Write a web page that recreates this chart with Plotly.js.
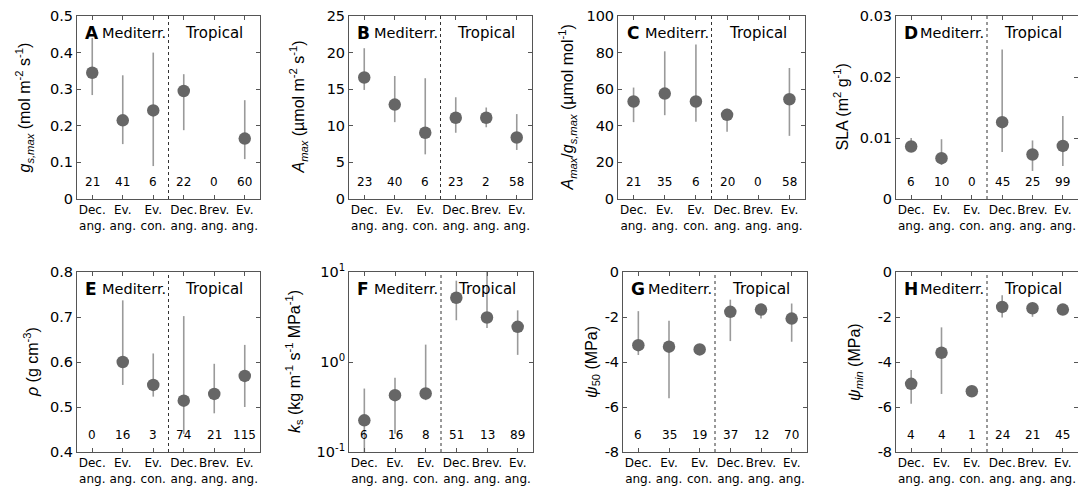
<!DOCTYPE html>
<html><head><meta charset="utf-8">
<script src="https://cdn.plot.ly/plotly-3.0.1.min.js"></script>
<style>html,body{margin:0;padding:0;background:#fff;} #chart{width:1078px;height:487px;}</style>
</head><body><div id="chart"></div>
<script>
// ---- categories / tick labels ----
const categoryLabels = ['Dec.<br>ang.','Ev.<br>ang.','Ev.<br>con.','Dec.<br>ang.','Brev.<br>ang.','Ev.<br>ang.'];
const positions = [1, 2, 3, 4, 5, 6];
const regionLeft = 'Mediterr.';
const regionRight = 'Tropical';

// ---- A: gs,max ----
const gsMean = [0.345, 0.215, 0.242, 0.295, null, 0.165];
const gsLow  = [0.284, 0.150, 0.090, 0.188, null, 0.109];
const gsHigh = [0.440, 0.338, 0.400, 0.341, null, 0.270];
const gsN    = [21, 41, 6, 22, 0, 60];
// ---- B: Amax ----
const amaxMean = [16.6, 12.9, 9.05, 11.1, 11.1, 8.4];
const amaxLow  = [14.9, 10.5, 6.1, 9.05, 9.8, 6.7];
const amaxHigh = [20.6, 16.8, 16.5, 13.9, 12.5, 11.6];
const amaxN    = [23, 40, 6, 23, 2, 58];
// ---- C: Amax/gs,max ----
const wueMean = [53.3, 57.6, 53.3, 46.0, null, 54.5];
const wueLow  = [42.0, 45.8, 42.2, 36.7, null, 34.5];
const wueHigh = [60.9, 80.7, 84.4, 49.3, null, 71.6];
const wueN    = [21, 35, 6, 20, 0, 58];
// ---- D: SLA ----
const slaMean = [0.0086, 0.0067, null, 0.0126, 0.0073, 0.0087];
const slaLow  = [0.0077, 0.0056, null, 0.0077, 0.0046, 0.0054];
const slaHigh = [0.0100, 0.0098, null, 0.0245, 0.0096, 0.0136];
const slaN    = [6, 10, 0, 45, 25, 99];
// ---- E: wood density ----
const rhoMean = [null, 0.600, 0.549, 0.514, 0.529, 0.569];
const rhoLow  = [null, 0.549, 0.523, 0.440, 0.486, 0.500];
const rhoHigh = [null, 0.737, 0.619, 0.702, 0.596, 0.638];
const rhoN    = [0, 16, 3, 74, 21, 115];
// ---- F: ks ----
const ksMean = [0.225, 0.428, 0.447, 5.17, 3.12, 2.46];
const ksLow  = [0.08, 0.16, 0.377, 2.91, 2.38, 1.2];
const ksHigh = [0.507, 0.67, 1.56, 8.0, 12.0, 3.75];
const ksN    = [6, 16, 8, 51, 13, 89];
const ksTickVals = [0.1, 1, 10];
const ksTickText = ['10<sup>-1</sup>', '10<sup>0</sup>', '10<sup>1</sup>'];
// ---- G: psi50 ----
const psi50Mean = [-3.25, -3.32, -3.44, -1.77, -1.67, -2.07];
const psi50Low  = [-3.69, -5.61, -3.55, -3.07, -2.07, -3.10];
const psi50High = [-1.74, -2.17, -3.35, -1.23, -1.48, -1.40];
const psi50N    = [6, 35, 19, 37, 12, 70];
// ---- H: psimin ----
const psiMinMean = [-4.97, -3.59, -5.30, -1.55, -1.61, -1.67];
const psiMinLow  = [-5.86, -5.42, -5.30, -2.02, -1.99, -1.87];
const psiMinHigh = [-4.35, -2.46, -5.30, -1.03, -1.40, -1.50];
const psiMinN    = [4, 4, 1, 24, 21, 45];
const psiTickVals = [-8, -6, -4, -2, 0];
const psiTickText = ['-8', '-6', '-4', '-2', '0'];

const W = 1078, H = 487;
const TOP = [16, 199], BOT = [272, 452];
const panels = [
  {letter:'A', mean:gsMean, low:gsLow, high:gsHigh, n:gsN, bx:[77,260], by:TOP, range:[0,0.5], dtick:0.1,
   title:'<i>g</i><sub><i>s,max</i></sub> (mol m<sup>-2</sup> s<sup>-1</sup>)', tx:25},
  {letter:'B', mean:amaxMean, low:amaxLow, high:amaxHigh, n:amaxN, bx:[349,532], by:TOP, range:[0,25], dtick:5,
   title:'<i>A</i><sub><i>max</i></sub> (µmol m<sup>-2</sup> s<sup>-1</sup>)', tx:299},
  {letter:'C', mean:wueMean, low:wueLow, high:wueHigh, n:wueN, bx:[618,805], by:TOP, range:[0,100], dtick:20,
   title:'<i>A</i><sub><i>max</i></sub>/<i>g</i><sub><i>s,max</i></sub> (µmol mol<sup>-1</sup>)', tx:568},
  {letter:'D', mean:slaMean, low:slaLow, high:slaHigh, n:slaN, bx:[896,1078], by:TOP, range:[0,0.03], dtick:0.01,
   title:'SLA (m<sup>2</sup> g<sup>-1</sup>)', tx:842},
  {letter:'E', mean:rhoMean, low:rhoLow, high:rhoHigh, n:rhoN, bx:[77,260], by:BOT, range:[0.4,0.8], dtick:0.1,
   title:'<i>ρ</i> (g cm<sup>-3</sup>)', tx:31},
  {letter:'F', mean:ksMean, low:ksLow, high:ksHigh, n:ksN, bx:[349,533], by:BOT, range:[-1,1], type:'log',
   tickvals:ksTickVals, ticktext:ksTickText,
   title:'<i>k</i><sub>s</sub> (kg m<sup>-1</sup> s<sup>-1</sup> MPa<sup>-1</sup>)', tx:294},
  {letter:'G', mean:psi50Mean, low:psi50Low, high:psi50High, n:psi50N, bx:[623,807], by:BOT, range:[-8,0],
   tickvals:psiTickVals, ticktext:psiTickText,
   title:'<i>ψ</i><sub>50</sub> (MPa)', tx:592},
  {letter:'H', mean:psiMinMean, low:psiMinLow, high:psiMinHigh, n:psiMinN, bx:[896,1078], by:BOT, range:[-8,0],
   tickvals:psiTickVals, ticktext:psiTickText,
   title:'<i>ψ</i><sub><i>min</i></sub> (MPa)', tx:855}
];

const AXC = '#555';
const data = [];
const layout = {
  width: W, height: H,
  margin: {l:0, r:0, t:0, b:0},
  paper_bgcolor: '#fff', plot_bgcolor: '#fff',
  font: {family: 'DejaVu Sans', color: '#000'},
  showlegend: false,
  annotations: [], shapes: []
};

panels.forEach((p, i) => {
  const sfx = i === 0 ? '' : String(i + 1);
  const xa = 'x' + sfx, ya = 'y' + sfx;
  const plus = p.mean.map((m, k) => m === null ? null : p.high[k] - m);
  const minus = p.mean.map((m, k) => m === null ? null : m - p.low[k]);
  data.push({
    type: 'scatter', mode: 'markers', x: positions, y: p.mean, xaxis: xa, yaxis: ya,
    marker: {size: 12.5, color: '#666'},
    error_y: {type: 'data', symmetric: false, array: plus, arrayminus: minus, color: '#9a9a9a', thickness: 1.6, width: 0},
    hoverinfo: 'skip', showlegend: false
  });
  const common = {showline: true, linecolor: AXC, linewidth: 1, mirror: 'ticks', ticks: 'inside', ticklen: 4,
    tickcolor: AXC, showgrid: false, zeroline: false, fixedrange: true};
  layout['xaxis' + sfx] = Object.assign({}, common, {
    domain: [p.bx[0] / W, Math.min(1, p.bx[1] / W)], range: [0.5, 6.5], anchor: ya,
    tickvals: positions, ticktext: categoryLabels, tickangle: 0,
    tickfont: {family: 'DejaVu Sans', size: 12, color: '#000'}
  });
  const yax = Object.assign({}, common, {
    domain: [1 - p.by[1] / H, 1 - p.by[0] / H], range: p.range, anchor: xa,
    tickfont: {family: 'DejaVu Sans', size: 14.5, color: '#000'}
  });
  if (p.type) yax.type = p.type;
  if (p.tickvals) { yax.tickmode = 'array'; yax.tickvals = p.tickvals; yax.ticktext = p.ticktext; }
  else { yax.dtick = p.dtick; yax.tick0 = 0; }
  layout['yaxis' + sfx] = yax;

  // divider
  layout.shapes.push({type: 'line', xref: xa, yref: ya + ' domain', x0: 3.5, x1: 3.5, y0: 0, y1: 1,
    line: {color: '#333', width: 1, dash: 'dot'}});
  // panel letter and region labels
  layout.annotations.push({xref: xa + ' domain', yref: ya + ' domain', x: 0.035, y: 0.907, xanchor: 'left', yanchor: 'middle',
    text: '<b>' + p.letter + '</b>', showarrow: false, font: {family: 'DejaVu Sans', size: 17, color: '#000'}});
  layout.annotations.push({xref: xa, yref: ya + ' domain', x: 3.47, y: 0.907, xanchor: 'right', yanchor: 'middle',
    text: regionLeft, showarrow: false, font: {family: 'DejaVu Sans', size: 14.5, color: '#000'}});
  layout.annotations.push({xref: xa, yref: ya + ' domain', x: 5, y: 0.907, xanchor: 'center', yanchor: 'middle',
    text: regionRight, showarrow: false, font: {family: 'DejaVu Sans', size: 15, color: '#000'}});
  // sample sizes
  p.n.forEach((v, k) => {
    layout.annotations.push({xref: xa, yref: ya + ' domain', x: positions[k], y: 0.093, xanchor: 'center', yanchor: 'middle',
      text: String(v), showarrow: false, font: {family: 'DejaVu Sans', size: 12, color: '#000'}});
  });
  // y title
  layout.annotations.push({xref: 'paper', yref: 'paper', x: p.tx / W, y: 1 - (p.by[0] + p.by[1]) / 2 / H,
    xanchor: 'center', yanchor: 'middle', textangle: -90, text: p.title, showarrow: false,
    font: {family: 'Liberation Sans', size: 16, color: '#000'}});
});

Plotly.newPlot('chart', data, layout, {displayModeBar: false, staticPlot: true});
</script>
</body></html>
